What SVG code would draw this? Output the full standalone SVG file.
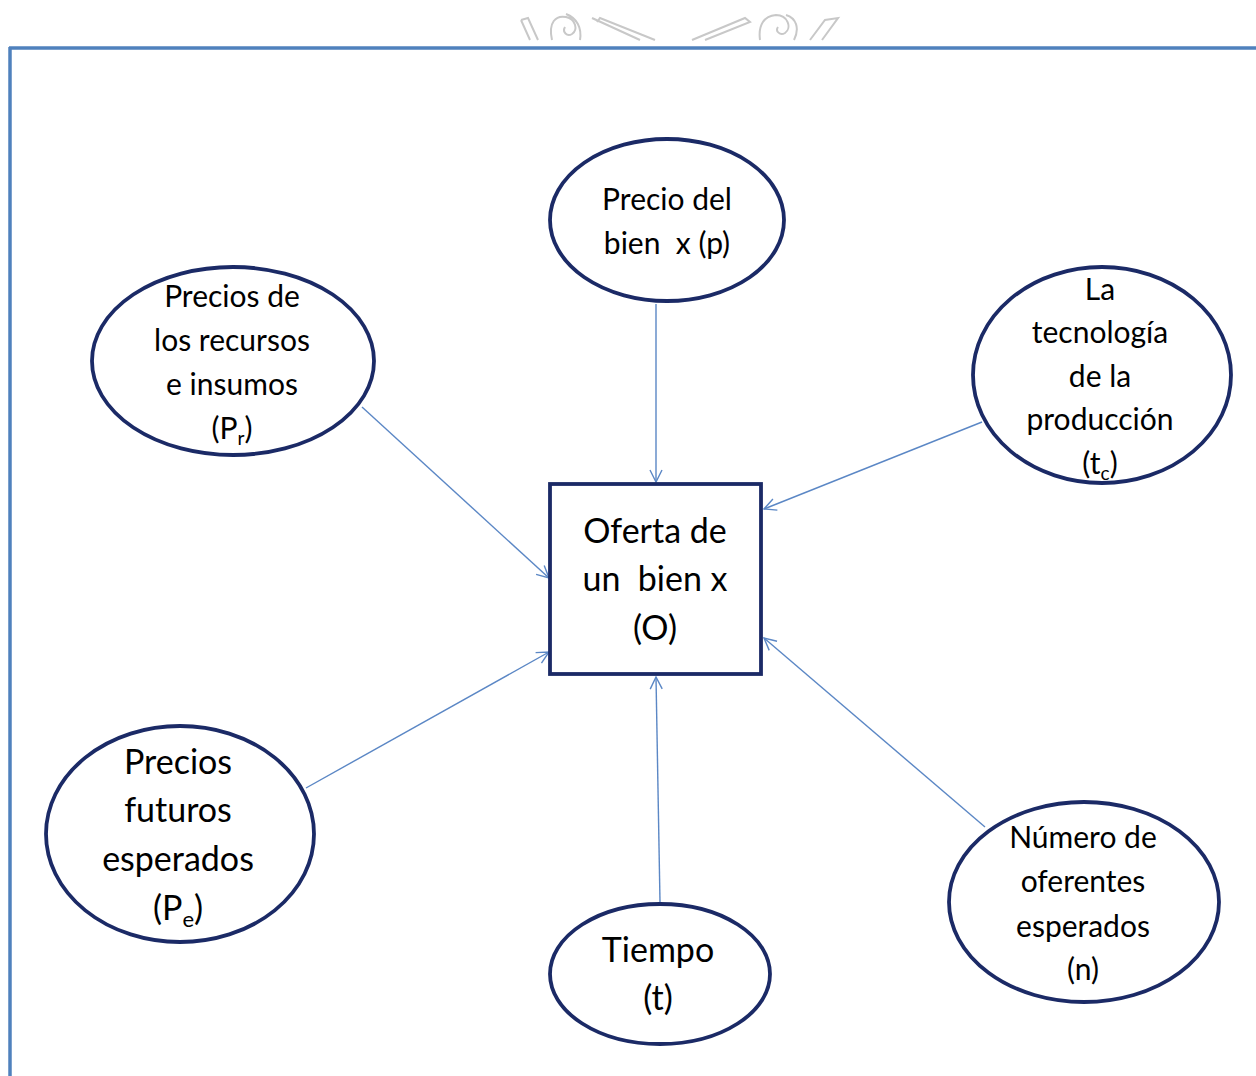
<svg xmlns="http://www.w3.org/2000/svg" width="1256" height="1076" viewBox="0 0 1256 1076">
<defs>
<marker id="arr" viewBox="0 0 14 14" refX="13" refY="7" markerWidth="14" markerHeight="14" markerUnits="userSpaceOnUse" orient="auto">
<path d="M1,1 L13,7 L1,13" fill="none" stroke="#5b87c5" stroke-width="1.4"/>
</marker>
<style>
.node{fill:#fff;stroke:#1b2a66;stroke-width:3.8}
.conn{stroke:#5b87c5;stroke-width:1.4;fill:none;marker-end:url(#arr)}
.t{font-family:Lato,"Open Sans","DejaVu Sans",sans-serif;fill:#000;text-anchor:middle;white-space:pre}
.s{font-size:30px}
.l{font-size:34px}
.orn{fill:none;stroke:#c8c8c8;stroke-width:2}
</style>
</defs>
<rect width="1256" height="1076" fill="#fff"/>
<g id="ornament">
<path class="orn" d="M521,20 L530,40 M521,20 L528,18 L538,40"/>
<path class="orn" d="M552,40 C548,22 556,15 566,17 C576,19 578,30 572,34 C567,37 562,32 565,27 M580,40 C582,28 577,18 566,14"/>
<path class="orn" d="M592,18 L640,40 M597,22 L600,18 L655,40"/>
<path class="orn" d="M692,40 L745,18 L750,22 L705,40"/>
<path class="orn" d="M760,40 C758,25 764,16 776,15 C788,15 792,28 785,33 C780,36 775,31 778,27 M794,40 C800,28 796,18 786,15"/>
<path class="orn" d="M810,40 L825,20 L838,18 L822,40"/>
</g>
<g id="frame">
<line x1="9" y1="48" x2="1256" y2="48" stroke="#4f81bd" stroke-width="3.5"/>
<line x1="10" y1="47" x2="10" y2="1076" stroke="#4f81bd" stroke-width="3.5"/>
</g>
<g id="connectors">
<line class="conn" x1="656" y1="304" x2="656" y2="482"/>
<line class="conn" x1="362" y1="407" x2="549" y2="578"/>
<line class="conn" x1="982" y1="422" x2="764" y2="509"/>
<line class="conn" x1="306" y1="788" x2="549" y2="652"/>
<line class="conn" x1="660" y1="902" x2="656" y2="677"/>
<line class="conn" x1="985" y1="827" x2="764" y2="638"/>
</g>
<g id="n-oferta">
<rect class="node" x="550" y="484" width="211" height="190"/>
<text class="t l" x="655" y="543">Oferta de</text>
<text class="t l" x="655" y="591" xml:space="preserve">un  bien x</text>
<text class="t l" x="655" y="640">(O)</text>
</g>
<g id="n-precio">
<ellipse class="node" cx="667" cy="220" rx="117" ry="81"/>
<text class="t s" x="667" y="210">Precio del</text>
<text class="t s" x="667" y="254" xml:space="preserve">bien  x (p)</text>
</g>
<g id="n-recursos">
<ellipse class="node" cx="233" cy="361" rx="141" ry="94"/>
<text class="t s" x="232" y="307">Precios de</text>
<text class="t s" x="232" y="351">los recursos</text>
<text class="t s" x="232" y="395">e insumos</text>
<text class="t s" x="232" y="439">(P<tspan font-size="19" dy="6">r</tspan><tspan dy="-6">)</tspan></text>
</g>
<g id="n-tecnologia">
<ellipse class="node" cx="1102" cy="375" rx="129" ry="108"/>
<text class="t s" x="1100" y="300">La</text>
<text class="t s" x="1100" y="343">tecnología</text>
<text class="t s" x="1100" y="387">de la</text>
<text class="t s" x="1100" y="430">producción</text>
<text class="t s" x="1100" y="474">(t<tspan font-size="19" dy="6">c</tspan><tspan dy="-6">)</tspan></text>
</g>
<g id="n-futuros">
<ellipse class="node" cx="180" cy="834" rx="134" ry="108"/>
<text class="t l" x="178" y="774">Precios</text>
<text class="t l" x="178" y="822">futuros</text>
<text class="t l" x="178" y="871">esperados</text>
<text class="t l" x="178" y="920">(P<tspan font-size="22" dy="7">e</tspan><tspan dy="-7">)</tspan></text>
</g>
<g id="n-tiempo">
<ellipse class="node" cx="660" cy="974" rx="110" ry="70"/>
<text class="t l" x="658" y="962">Tiempo</text>
<text class="t l" x="658" y="1010">(t)</text>
</g>
<g id="n-oferentes">
<ellipse class="node" cx="1084" cy="902" rx="135" ry="100"/>
<text class="t s" x="1083" y="848">Número de</text>
<text class="t s" x="1083" y="892">oferentes</text>
<text class="t s" x="1083" y="937">esperados</text>
<text class="t s" x="1083" y="980">(n)</text>
</g>
</svg>
